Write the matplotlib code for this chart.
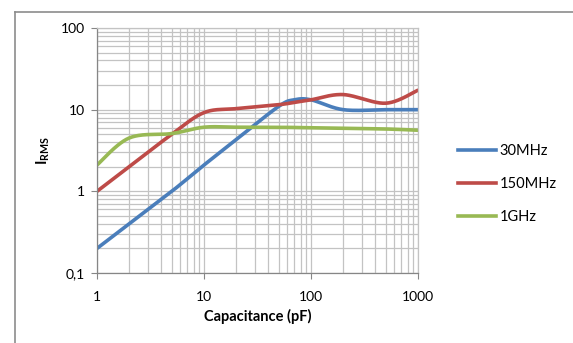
import matplotlib
matplotlib.use("Agg")
import matplotlib.pyplot as plt
from matplotlib.ticker import LogLocator, FixedLocator, NullFormatter
from matplotlib.lines import Line2D
import numpy as np

plt.rcParams['font.family'] = ['Lato', 'DejaVu Sans']

cap_pf = [1, 2, 5, 10, 20, 50, 70, 100, 200, 500, 1000]
i_30mhz = [0.2, 0.4, 1.0, 2.1, 4.3, 11.0, 13.2, 13.2, 10.0, 10.0, 10.0]
i_150mhz = [1.0, 2.0, 5.0, 9.2, 10.3, 11.5, 12.3, 13.2, 15.3, 12.0, 17.3]
i_1ghz = [2.1, 4.5, 5.1, 6.1, 6.1, 6.1, 6.05, 6.0, 5.9, 5.8, 5.6]

series_names = ["30MHz", "150MHz", "1GHz"]
series_colors = ["#4a7ebb", "#be4b48", "#98b954"]
x_ticks = [1, 10, 100, 1000]
x_tick_labels = ["1", "10", "100", "1000"]
y_ticks = [0.1, 1, 10, 100]
y_tick_labels = ["0,1", "1", "10", "100"]


def smooth(xs, ys, n=40):
    # Bezier smoothing in log-log space (like Excel smoothed lines)
    lx = np.log10(xs)
    ly = np.log10(ys)
    px, py = [], []
    for i in range(len(lx) - 1):
        p0x = lx[i - 1] if i > 0 else lx[i]
        p0y = ly[i - 1] if i > 0 else ly[i]
        p3x = lx[i + 2] if i + 2 < len(lx) else lx[i + 1]
        p3y = ly[i + 2] if i + 2 < len(ly) else ly[i + 1]
        t = np.linspace(0, 1, n, endpoint=False)
        tension = 1 / 6
        c1x = lx[i] + (lx[i + 1] - p0x) * tension
        c1y = ly[i] + (ly[i + 1] - p0y) * tension
        c2x = lx[i + 1] - (p3x - lx[i]) * tension
        c2y = ly[i + 1] - (p3y - ly[i]) * tension
        bx = ((1 - t) ** 3) * lx[i] + 3 * ((1 - t) ** 2) * t * c1x + 3 * (1 - t) * t ** 2 * c2x + t ** 3 * lx[i + 1]
        by = ((1 - t) ** 3) * ly[i] + 3 * ((1 - t) ** 2) * t * c1y + 3 * (1 - t) * t ** 2 * c2y + t ** 3 * ly[i + 1]
        px.extend(bx)
        py.extend(by)
    px.append(lx[-1])
    py.append(ly[-1])
    return 10 ** np.array(px), 10 ** np.array(py)


fig = plt.figure(figsize=(5.73, 3.43), dpi=100)
ax = fig.add_axes([97 / 573, 1 - 273 / 343, (418 - 97) / 573, (273 - 28) / 343])

ax.set_xscale('log')
ax.set_yscale('log')
ax.set_xlim(1, 1000)
ax.set_ylim(0.1, 100)

grid_color = "#c3c3c3"
ax.xaxis.set_major_locator(FixedLocator(x_ticks))
ax.yaxis.set_major_locator(FixedLocator(y_ticks))
ax.xaxis.set_minor_locator(LogLocator(base=10, subs=np.arange(2, 10)))
ax.yaxis.set_minor_locator(LogLocator(base=10, subs=np.arange(2, 10)))
ax.xaxis.set_minor_formatter(NullFormatter())
ax.yaxis.set_minor_formatter(NullFormatter())
ax.set_xticklabels(x_tick_labels)
ax.set_yticklabels(y_tick_labels)
ax.grid(True, which='both', color=grid_color, linewidth=0.9)
ax.set_axisbelow(True)

for side in ['top', 'right']:
    ax.spines[side].set_color(grid_color)
    ax.spines[side].set_linewidth(0.9)
for side in ['left', 'bottom']:
    ax.spines[side].set_color("#868686")
    ax.spines[side].set_linewidth(0.9)

ax.tick_params(which='major', direction='out', length=4, color="#868686",
               labelsize=10, labelcolor="#000000", pad=5)
ax.tick_params(which='minor', length=0)
ax.tick_params(axis='x', pad=9)

for ys, name, c in zip([i_30mhz, i_150mhz, i_1ghz], series_names, series_colors):
    sx, sy = smooth(cap_pf, ys)
    ax.plot(sx, sy, color=c, linewidth=2.6, solid_capstyle='round', label=name)

ax.set_xlabel("Capacitance (pF)", fontsize=10.5, fontweight='bold', labelpad=4)
ax.set_ylabel(r"I$_{\mathregular{RMS}}$", fontsize=11, fontweight='bold', labelpad=6)

handles = [Line2D([0], [0], color=c, linewidth=2.6) for c in series_colors]
fig.legend(handles, series_names, loc='upper left', bbox_to_anchor=(452 / 573, 1 - 138 / 343),
           frameon=False, fontsize=10.5, handlelength=2.6, handletextpad=0.25,
           labelspacing=1.3, borderaxespad=0)

# outer chart border (top and left visible)
fig.add_artist(Line2D([15 / 573, 15 / 573], [0, 1 - 12 / 343], color="#8c8c8c", linewidth=1.2,
                      transform=fig.transFigure))
fig.add_artist(Line2D([15 / 573, 1], [1 - 12 / 343, 1 - 12 / 343], color="#8c8c8c", linewidth=1.2,
                      transform=fig.transFigure))

fig.savefig("out.png", dpi=100)
